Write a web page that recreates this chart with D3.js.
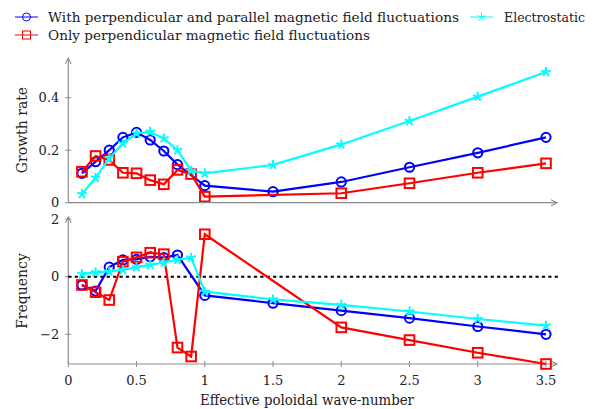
<!DOCTYPE html>
<html>
<head>
<meta charset="utf-8">
<script src="https://cdn.jsdelivr.net/npm/d3@7"></script>
<style>
  body { margin: 0; background: #fff; }
</style>
</head>
<body>
<svg id="chart" width="597" height="409"></svg>
<script>
// wave-numbers
var kAll  = [0.1, 0.2, 0.3, 0.4, 0.5, 0.6, 0.7, 0.8, 0.9, 1, 1.5, 2, 2.5, 3, 3.5];
var kBlue = [0.1, 0.2, 0.3, 0.4, 0.5, 0.6, 0.7, 0.8, 1, 1.5, 2, 2.5, 3, 3.5];
var kRed  = [0.1, 0.2, 0.3, 0.4, 0.5, 0.6, 0.7, 0.8, 0.9, 1, 2, 2.5, 3, 3.5];

// growth rate
var growthBoth = [0.112, 0.156, 0.2, 0.249, 0.268, 0.239, 0.197, 0.145, 0.065, 0.042, 0.079, 0.135, 0.19, 0.249];
var growthPerp = [0.118, 0.178, 0.163, 0.114, 0.112, 0.086, 0.07, 0.125, 0.109, 0.023, 0.036, 0.074, 0.114, 0.15];
var growthES   = [0.033, 0.095, 0.169, 0.226, 0.264, 0.27, 0.245, 0.2, 0.122, 0.112, 0.144, 0.222, 0.311, 0.404, 0.498];

// frequency
var freqBoth = [-0.29, -0.5, 0.33, 0.58, 0.6, 0.69, 0.66, 0.75, -0.65, -0.92, -1.18, -1.44, -1.73, -2.0];
var freqPerp = [-0.29, -0.54, -0.81, 0.52, 0.67, 0.83, 0.78, -2.46, -2.77, 1.47, -1.76, -2.2, -2.64, -3.03];
var freqES   = [0.09, 0.15, 0.18, 0.23, 0.33, 0.41, 0.49, 0.58, 0.66, -0.52, -0.79, -0.98, -1.21, -1.47, -1.7];

var xTicks = [0, 0.5, 1, 1.5, 2, 2.5, 3, 3.5];
var growthTicks = [0, 0.2, 0.4];
var freqTicks = [-2, 0, 2];

var legendNames = ["With perpendicular and parallel magnetic field fluctuations",
                   "Electrostatic",
                   "Only perpendicular magnetic field fluctuations"];

var svg = d3.select("#chart");
var axisColor = "#8c8c8c";
var serif = "DejaVu Serif";

var x = d3.scaleLinear().domain([0, 3.5]).range([68.3, 546]);
var yTop = d3.scaleLinear().domain([0, 0.4]).range([202.7, 97.7]);
var yBot = d3.scaleLinear().domain([-2, 2]).range([334.3, 219]);

// arrow marker
svg.append("defs").append("marker")
  .attr("id", "arr")
  .attr("viewBox", "0 0 10 10")
  .attr("refX", 8).attr("refY", 5)
  .attr("markerWidth", 7).attr("markerHeight", 7)
  .attr("orient", "auto")
  .append("path")
  .attr("d", "M1,1.5 L8,5 L1,8.5")
  .attr("fill", "none")
  .attr("stroke", axisColor)
  .attr("stroke-width", 1.3);

function starPath(r) {
  var p = "";
  for (var i = 0; i < 5; i++) {
    var a = -Math.PI / 2 + i * 2 * Math.PI / 5;
    p += "M0,0L" + (r * Math.cos(a)).toFixed(2) + "," + (r * Math.sin(a)).toFixed(2);
  }
  return p;
}

function addText(px, py, str, size, anchor) {
  return svg.append("text")
    .attr("x", px).attr("y", py)
    .attr("text-anchor", anchor || "start")
    .style("font-family", serif)
    .style("font-size", size + "px")
    .attr("fill", "#222")
    .text(str);
}

function drawSeries(g, xs, ys, y, color, mark) {
  var pts = xs.map(function(d, i) { return [d, ys[i]]; });
  var line = d3.line().x(function(d) { return x(d[0]); }).y(function(d) { return y(d[1]); });
  g.append("path")
    .datum(pts)
    .attr("d", line)
    .attr("fill", "none")
    .attr("stroke", color)
    .attr("stroke-width", 2.2);
  var m = g.append("g").selectAll("g").data(pts).enter().append("g")
    .attr("transform", function(d) { return "translate(" + x(d[0]) + "," + y(d[1]) + ")"; });
  if (mark == "circle") {
    m.append("circle").attr("r", 4.6).attr("fill", "none").attr("stroke", color).attr("stroke-width", 2);
  } else if (mark == "square") {
    m.append("rect").attr("x", -4.8).attr("y", -4.8).attr("width", 9.6).attr("height", 9.6)
      .attr("fill", "none").attr("stroke", color).attr("stroke-width", 2);
  } else {
    m.append("path").attr("d", starPath(5)).attr("stroke", color).attr("stroke-width", 2);
  }
}

function yAxis(y, ticks, fmt, top, bottom) {
  svg.append("line")
    .attr("x1", x(0)).attr("x2", x(0))
    .attr("y1", bottom).attr("y2", top)
    .attr("stroke", axisColor).attr("stroke-width", 1.2)
    .attr("marker-end", "url(#arr)");
  ticks.forEach(function(t) {
    svg.append("line")
      .attr("x1", x(0) - 3).attr("x2", x(0) + 3)
      .attr("y1", y(t)).attr("y2", y(t))
      .attr("stroke", axisColor).attr("stroke-width", 1);
    addText(x(0) - 9, y(t) + 4.5, fmt(t), 13, "end");
  });
}

// ---- top panel: growth rate
var gTop = svg.append("g");
svg.append("line")
  .attr("x1", x(0)).attr("x2", 557)
  .attr("y1", yTop(0)).attr("y2", yTop(0))
  .attr("stroke", axisColor).attr("stroke-width", 1.2)
  .attr("marker-end", "url(#arr)");
yAxis(yTop, growthTicks, function(t) { return t == 0 ? "0" : t.toFixed(1); }, 58, yTop(0));

drawSeries(gTop, kBlue, growthBoth, yTop, "#0000ff", "circle");
drawSeries(gTop, kRed, growthPerp, yTop, "#ff0000", "square");
drawSeries(gTop, kAll, growthES, yTop, "#00ffff", "star");

addText(0, 0, "Growth rate", 14, "middle")
  .attr("transform", "translate(27,130) rotate(-90)");

// ---- bottom panel: frequency
var yMinBot = -3.03;
svg.append("line")
  .attr("x1", x(0)).attr("x2", 557)
  .attr("y1", yBot(yMinBot)).attr("y2", yBot(yMinBot))
  .attr("stroke", axisColor).attr("stroke-width", 1.2)
  .attr("marker-end", "url(#arr)");
yAxis(yBot, freqTicks, function(t) { return t < 0 ? "\u2212" + Math.abs(t) : "" + t; }, 217, yBot(yMinBot));

xTicks.forEach(function(t) {
  svg.append("line")
    .attr("x1", x(t)).attr("x2", x(t))
    .attr("y1", yBot(yMinBot) - 3).attr("y2", yBot(yMinBot) + 3)
    .attr("stroke", axisColor).attr("stroke-width", 1);
  addText(x(t), 385, t, 13, "middle");
});

// zero line
svg.append("line")
  .attr("x1", x(0)).attr("x2", x(3.6))
  .attr("y1", yBot(0)).attr("y2", yBot(0))
  .attr("stroke", "#000").attr("stroke-width", 2)
  .attr("stroke-dasharray", "3.2,3.2");

var gBot = svg.append("g");
drawSeries(gBot, kBlue, freqBoth, yBot, "#0000ff", "circle");
drawSeries(gBot, kRed, freqPerp, yBot, "#ff0000", "square");
drawSeries(gBot, kAll, freqES, yBot, "#00ffff", "star");

addText(0, 0, "Frequency", 14, "middle")
  .attr("transform", "translate(27,291) rotate(-90)");

addText(307, 405, "Effective poloidal wave-number", 14, "middle")
  .attr("textLength", 214).attr("lengthAdjust", "spacingAndGlyphs");

// ---- legend
var legend = [
  {name: legendNames[0], color: "#0000ff", mark: "circle", lx: 15, ly: 17, tx: 48, w: 411},
  {name: legendNames[1], color: "#00ffff", mark: "star", lx: 470, ly: 17, tx: 504, w: 81},
  {name: legendNames[2], color: "#ff0000", mark: "square", lx: 15, ly: 35, tx: 48, w: 322}
];
legend.forEach(function(d) {
  var g = svg.append("g");
  g.append("line")
    .attr("x1", d.lx).attr("x2", d.lx + 23)
    .attr("y1", d.ly).attr("y2", d.ly)
    .attr("stroke", d.color).attr("stroke-width", 1);
  var m = g.append("g").attr("transform", "translate(" + (d.lx + 11.5) + "," + d.ly + ")");
  if (d.mark == "circle") m.append("circle").attr("r", 4).attr("fill", "none").attr("stroke", d.color).attr("stroke-width", 1);
  else if (d.mark == "square") m.append("rect").attr("x", -4).attr("y", -4).attr("width", 8).attr("height", 8).attr("fill", "none").attr("stroke", d.color).attr("stroke-width", 1);
  else m.append("path").attr("d", starPath(4.5)).attr("stroke", d.color).attr("stroke-width", 1);
  addText(d.tx, d.ly + 5, d.name, 13.5)
    .attr("textLength", d.w)
    .attr("lengthAdjust", "spacingAndGlyphs");
});
</script>
</body>
</html>
